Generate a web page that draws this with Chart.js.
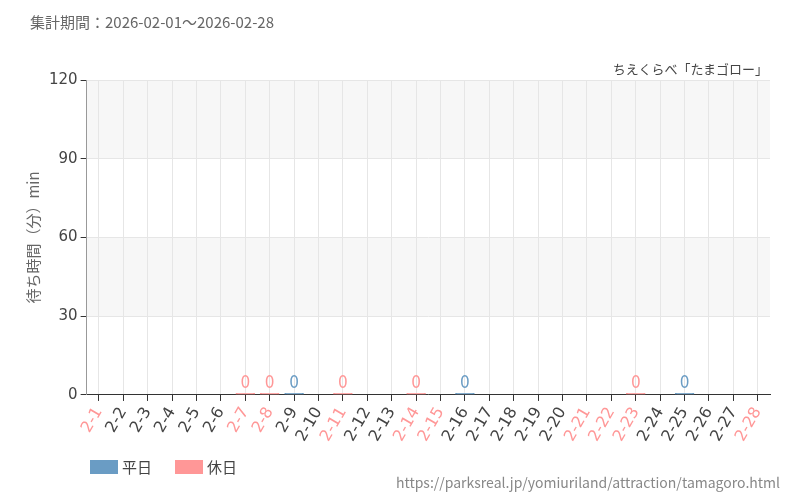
<!DOCTYPE html>
<html><head><meta charset="utf-8">
<script src="https://cdn.jsdelivr.net/npm/chart.js@4"></script>
<style>
body{margin:0;width:800px;height:500px;font-family:"Noto Sans CJK JP","Noto Sans",sans-serif;position:relative;background:#fff}
#c{position:absolute;left:0;top:0}
.t{position:absolute;color:#666;white-space:nowrap}
</style></head><body>
<canvas id="c" width="800" height="500"></canvas>
<div class="t" style="left:30px;top:11px;font-size:15px">集計期間：2026-02-01～2026-02-28</div>
<div class="t" style="right:32px;top:59px;font-size:13px;color:#444">ちえくらべ「たまゴロー」</div>
<div class="t" style="right:20px;top:472px;font-size:14px;color:#888">https://parksreal.jp/yomiuriland/attraction/tamagoro.html</div>
<script>
const categories=[];for(let i=1;i<=28;i++)categories.push('2-'+i);
const holidays=['2-1','2-7','2-8','2-11','2-14','2-15','2-21','2-22','2-23','2-28'];
const weekdayValues={'2-9':0,'2-16':0,'2-25':0};
const holidayValues={'2-7':0,'2-8':0,'2-11':0,'2-14':0,'2-23':0};
const yTicks=[0,30,60,90,120];
const BLUE='#6a9cc4',PINK='#ff9797';
const wd=categories.map(c=>c in weekdayValues?weekdayValues[c]:null);
const hd=categories.map(c=>c in holidayValues?holidayValues[c]:null);
const bands={id:'bands',beforeDraw(ch){const {ctx,chartArea:a,scales:{y}}=ch;ctx.save();ctx.fillStyle='#f7f7f7';
[[90,120],[30,60]].forEach(([l,h])=>{ctx.fillRect(a.left,y.getPixelForValue(h),a.right-a.left,y.getPixelForValue(l)-y.getPixelForValue(h));});ctx.restore();}};
const labels={id:'lbl',afterDatasetsDraw(ch){const ctx=ch.ctx;ctx.save();ctx.font='17px "DejaVu Sans Condensed","DejaVu Sans"';ctx.textAlign='center';ctx.textBaseline='bottom';
ch.data.datasets.forEach((ds,i)=>{ch.getDatasetMeta(i).data.forEach((b,j)=>{if(ds.data[j]===null)return;ctx.fillStyle=ds.borderColor;ctx.fillText(String(ds.data[j]),b.x,b.y-1);});});ctx.restore();}};
new Chart(document.getElementById('c'),{type:'bar',
data:{labels:categories,datasets:[
{label:'平日',data:wd,backgroundColor:BLUE,borderColor:BLUE,borderWidth:2,minBarLength:2,barPercentage:0.8,categoryPercentage:1},
{label:'休日',data:hd,backgroundColor:PINK,borderColor:PINK,borderWidth:2,minBarLength:2,barPercentage:0.8,categoryPercentage:1}]},
options:{responsive:false,animation:false,
layout:{padding:{left:20,right:30,top:80,bottom:52}},
plugins:{legend:{display:false},tooltip:{enabled:false}},
scales:{
x:{stacked:true,grid:{offset:false,color:'#e6e6e6',tickColor:'#333',tickLength:6},border:{color:'#333'},
ticks:{maxRotation:60,minRotation:60,autoSkip:false,font:{size:16,family:'"DejaVu Sans"'},color:ctx=>holidays.includes(categories[ctx.index])?PINK:'#444'}},
y:{stacked:true,min:0,max:120,afterBuildTicks:s=>{s.ticks=yTicks.map(v=>({value:v}));},
grid:{color:'#e6e6e6',tickColor:'#333',tickLength:6},border:{color:'#999'},
ticks:{font:{size:15,family:'"DejaVu Sans"'},color:'#444'},
title:{display:true,text:'待ち時間（分）min',font:{size:15,family:'"Noto Sans CJK JP"'},color:'#666'}}}},
plugins:[bands,labels]});
</script>
<div style="position:absolute;left:90px;top:460px;width:28px;height:14px;background:#6a9cc4"></div>
<div class="t" style="left:122px;top:456px;font-size:15px;color:#444">平日</div>
<div style="position:absolute;left:175px;top:460px;width:28px;height:14px;background:#ff9797"></div>
<div class="t" style="left:207px;top:456px;font-size:15px;color:#444">休日</div>
</body></html>
